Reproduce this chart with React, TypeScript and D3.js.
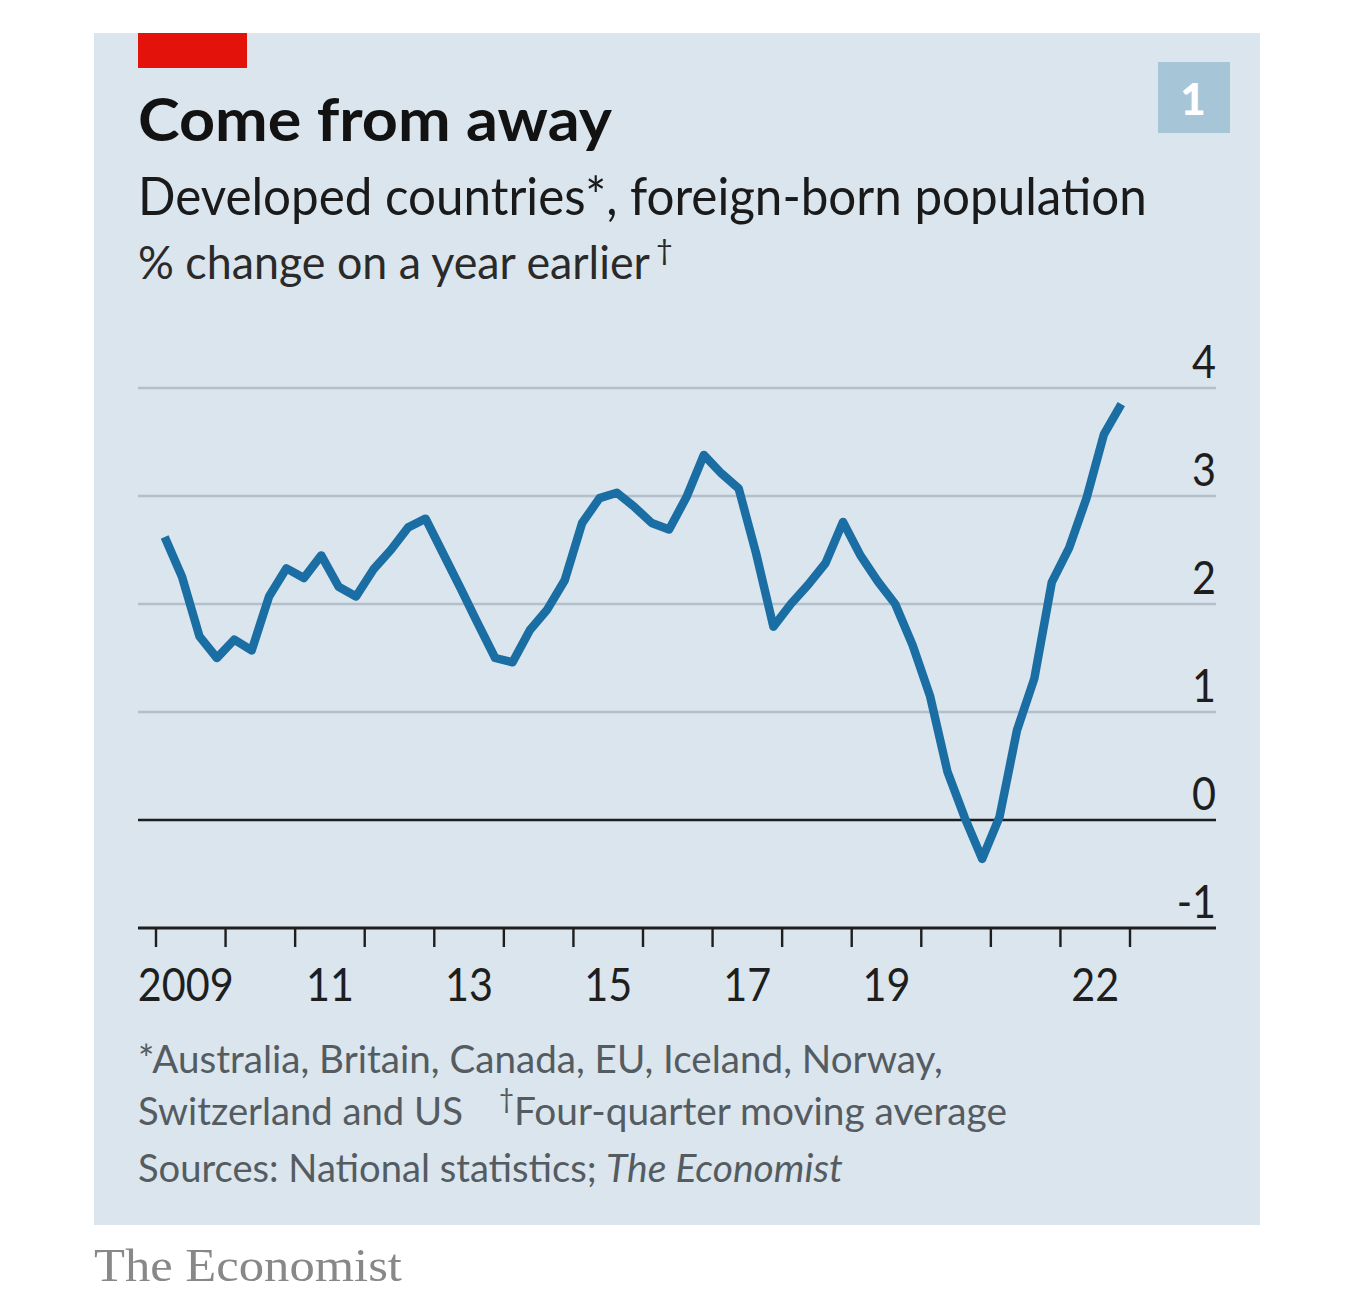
import React, { useLayoutEffect, useRef, useState } from "react";
import * as d3 from "d3";

const startYear = 2009;
const values: number[] = [
  2.62, 2.25, 1.7, 1.5, 1.67, 1.57, 2.07, 2.33, 2.24, 2.45, 2.16, 2.07, 2.32, 2.5, 2.71, 2.79,
  2.47, 2.15, 1.82, 1.5, 1.46, 1.76, 1.95, 2.22, 2.75, 2.98, 3.03, 2.9, 2.75, 2.69, 2.99, 3.38,
  3.21, 3.07, 2.47, 1.79, 2.0, 2.18, 2.38, 2.76, 2.45, 2.21, 2.0, 1.62, 1.15, 0.45, 0.02, -0.36,
  0.03, 0.83, 1.31, 2.2, 2.52, 2.98, 3.57, 3.85,
];
const yTicks: number[] = [-1, 0, 1, 2, 3, 4];
const xTickYears: number[] = d3.range(2009, 2024);
const xLabelYears: number[] = [2009, 2011, 2013, 2015, 2017, 2019, 2022];
const xLabels: string[] = ["2009", "11", "13", "15", "17", "19", "22"];

const FONT = "Lato, 'Noto Sans', sans-serif";

function FitText(props: {
  x: number; y: number; width: number; size: number; fill: string;
  weight?: number; italic?: boolean; family?: string; children: string;
}) {
  const ref = useRef<SVGTextElement>(null);
  const [sx, setSx] = useState(1);
  useLayoutEffect(() => {
    if (ref.current) {
      const w = ref.current.getComputedTextLength();
      if (w > 0) setSx(props.width / w);
    }
  }, [props.width, props.children]);
  return (
    <g transform={`translate(${props.x},${props.y}) scale(${sx},1)`}>
      <text ref={ref} x={0} y={0} fontFamily={props.family || FONT} fontSize={props.size}
        fontWeight={props.weight || 400} fontStyle={props.italic ? "italic" : "normal"} fill={props.fill}>
        {props.children}
      </text>
    </g>
  );
}

export default function App() {
  const x = d3.scaleLinear().domain([2009, 2023]).range([156, 1130]);
  const y = d3.scaleLinear().domain([-1, 4]).range([928, 388]);
  const data = values.map((v, i) => ({ t: startYear + (i + 0.5) / 4, v }));
  const line = d3
    .line<{ t: number; v: number }>()
    .x((d) => x(d.t))
    .y((d) => y(d.v));

  const left = 138;
  const right = 1216;
  const foot = "#555c61";

  return (
    <svg
      width={1356}
      height={1302}
      style={{ position: "absolute", left: 0, top: 0, display: "block" }}
    >
      <rect x={0} y={0} width={1356} height={1302} fill="#ffffff" />
      <rect x={94} y={33} width={1166} height={1192} fill="#dae5ee" />
      <rect x={138} y={33} width={109} height={35} fill="#e3120b" />

      <FitText x={138} y={141} width={474} size={60} weight={700} fill="#121212">Come from away</FitText>
      <FitText x={138} y={215} width={1009} size={52} fill="#1a1a1a">Developed countries*, foreign-born population</FitText>
      <FitText x={138} y={279} width={512} size={46} fill="#2a2a2a">% change on a year earlier</FitText>
      <text x={656} y={260} fontFamily={FONT} fontSize={29} fill="#2a2a2a">†</text>

      <rect x={1158} y={62} width={72} height={71} fill="#a6c6d8" />
      <text x={1193} y={115} textAnchor="middle" fontFamily={FONT} fontWeight={900} fontSize={44} fill="#ffffff">1</text>

      {yTicks.map((t) => (
        <g key={t}>
          {t > -1 && (
            <line x1={left} x2={right} y1={y(t)} y2={y(t)}
              stroke={t === 0 ? "#1e1e1e" : "#b4c0c9"} strokeWidth={t === 0 ? 2.6 : 2.4} />
          )}
          <g transform={`translate(${right},${y(t) - 10}) scale(0.88,1)`}>
            <text x={0} y={0} textAnchor="end" fontFamily={FONT} fontSize={47} fill="#1e1e1e">
              {t}
            </text>
          </g>
        </g>
      ))}

      <line x1={left} x2={right} y1={y(-1)} y2={y(-1)} stroke="#1e1e1e" strokeWidth={3} />
      {xTickYears.map((yr) => (
        <line key={yr} x1={x(yr)} x2={x(yr)} y1={y(-1)} y2={y(-1) + 19} stroke="#1e1e1e" strokeWidth={2.4} />
      ))}
      {xLabelYears.map((yr, i) => (
        <g key={yr} transform={`translate(${x(yr + 0.5) - (i === 0 ? 5 : 0)},1001) scale(0.88,1)`}>
          <text x={0} y={0} textAnchor="middle" fontFamily={FONT} fontSize={47} fill="#1e1e1e">
            {xLabels[i]}
          </text>
        </g>
      ))}

      <path d={line(data) || ""} fill="none" stroke="#1a6ea3" strokeWidth={8.5}
        strokeLinejoin="round" strokeLinecap="butt" />

      <FitText x={138} y={1073} width={805} size={39} fill={foot}>*Australia, Britain, Canada, EU, Iceland, Norway,</FitText>
      <FitText x={138} y={1125} width={325} size={39} fill={foot}>Switzerland and US</FitText>
      <text x={499} y={1108} fontFamily={FONT} fontSize={26} fill={foot}>†</text>
      <FitText x={514} y={1125} width={493} size={39} fill={foot}>Four-quarter moving average</FitText>
      <FitText x={138} y={1182} width={459} size={39} fill={foot}>Sources: National statistics;</FitText>
      <FitText x={606} y={1182} width={237} size={39} italic fill={foot}>The Economist</FitText>

      <FitText x={94} y={1281} width={308} size={47} fill="#888888"
        family="'Liberation Serif', 'DejaVu Serif', serif">The Economist</FitText>
    </svg>
  );
}
